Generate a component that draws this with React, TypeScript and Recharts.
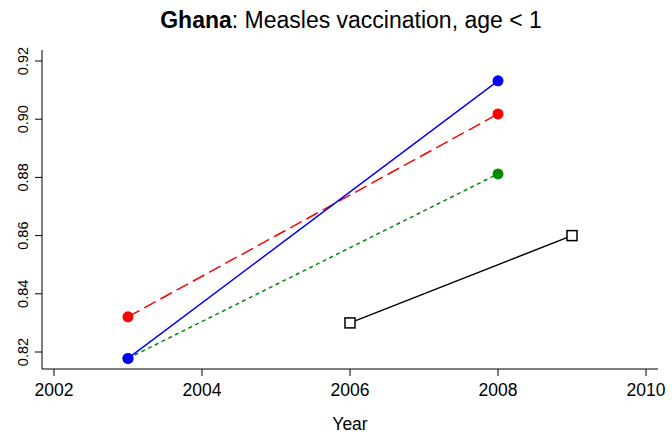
import { LineChart, Line, XAxis, YAxis } from 'recharts';

const years = [2003, 2008];
const blueValues = [0.8178, 0.9132];
const redValues = [0.8321, 0.9018];
const greenValues = [0.8178, 0.8812];
const blackYears = [2006, 2009];
const blackValues = [0.830, 0.860];

const xTicks = [2002, 2004, 2006, 2008, 2010];
const yTicks = [0.82, 0.84, 0.86, 0.88, 0.9, 0.92];

const toRows = (xs: number[], ys: number[]) => xs.map((year, i) => ({ year, value: ys[i] }));

const blueData = toRows(years, blueValues);
const redData = toRows(years, redValues);
const greenData = toRows(years, greenValues);
const blackData = toRows(blackYears, blackValues);

const font = 'Arial, "Liberation Sans", Helvetica, sans-serif';

function YTick(props: any) {
  const { x, y, payload } = props;
  return (
    <text
      x={x}
      y={y}
      transform={`rotate(-90, ${x}, ${y})`}
      textAnchor="middle"
      fontSize={14.5}
      fontFamily={font}
      fill="#000"
    >
      {payload.value.toFixed(2)}
    </text>
  );
}

function SquareDot(props: any) {
  const { cx, cy } = props;
  if (cx == null || cy == null) return null;
  return <rect x={cx - 5} y={cy - 5} width={10} height={10} fill="#fff" stroke="#000" strokeWidth={1.5} />;
}

export default function App() {
  return (
    <div style={{ position: 'absolute', left: 0, top: 0, width: 672, height: 438, background: '#fff' }}>
      <svg width={672} height={40} style={{ position: 'absolute', left: 0, top: 0 }}>
        <text x={351} y={28} textAnchor="middle" fontSize={23} fontFamily={font} fill="#000">
          <tspan fontWeight="bold">Ghana</tspan>
          <tspan>: Measles vaccination, age &lt; 1</tspan>
        </text>
      </svg>
      <LineChart width={672} height={438} margin={{ top: 50, right: 14, bottom: 0, left: 0 }}>
        <XAxis
          dataKey="year"
          type="number"
          domain={[2001.838, 2010.162]}
          ticks={xTicks}
          allowDataOverflow
          height={69}
          tickSize={7}
          tickMargin={8}
          stroke="#000"
          tick={{ fill: '#000', fontSize: 17.5, fontFamily: font }}
          label={{ value: 'Year', position: 'insideBottom', offset: 8, fill: '#000', fontSize: 17.5, fontFamily: font }}
        />
        <XAxis
          xAxisId="top"
          orientation="top"
          type="number"
          domain={[2001.838, 2010.162]}
          height={0}
          tick={false}
          tickLine={false}
          stroke="#000"
        />
        <YAxis
          type="number"
          domain={[0.81416, 0.92378]}
          ticks={yTicks}
          allowDataOverflow
          width={42}
          tickSize={7}
          tickMargin={7}
          stroke="#000"
          tick={<YTick />}
        />
        <YAxis
          yAxisId="right"
          orientation="right"
          type="number"
          domain={[0.81416, 0.92378]}
          width={0}
          tick={false}
          tickLine={false}
          stroke="#000"
        />
        <Line
          data={redData}
          dataKey="value"
          stroke="#FF0000"
          strokeWidth={1.5}
          strokeDasharray="13 5.5"
          dot={{ r: 5.5, fill: '#FF0000', stroke: 'none', strokeDasharray: '0' }}
          isAnimationActive={false}
        />
        <Line
          data={greenData}
          dataKey="value"
          stroke="#008B00"
          strokeWidth={1.5}
          strokeDasharray="4 3.5"
          dot={{ r: 5.5, fill: '#008B00', stroke: 'none', strokeDasharray: '0' }}
          isAnimationActive={false}
        />
        <Line
          data={blueData}
          dataKey="value"
          stroke="#0000FF"
          strokeWidth={1.5}
          dot={{ r: 5.5, fill: '#0000FF', stroke: 'none' }}
          isAnimationActive={false}
        />
        <Line
          data={blackData}
          dataKey="value"
          stroke="#000"
          strokeWidth={1.5}
          dot={<SquareDot />}
          isAnimationActive={false}
        />
      </LineChart>
    </div>
  );
}
